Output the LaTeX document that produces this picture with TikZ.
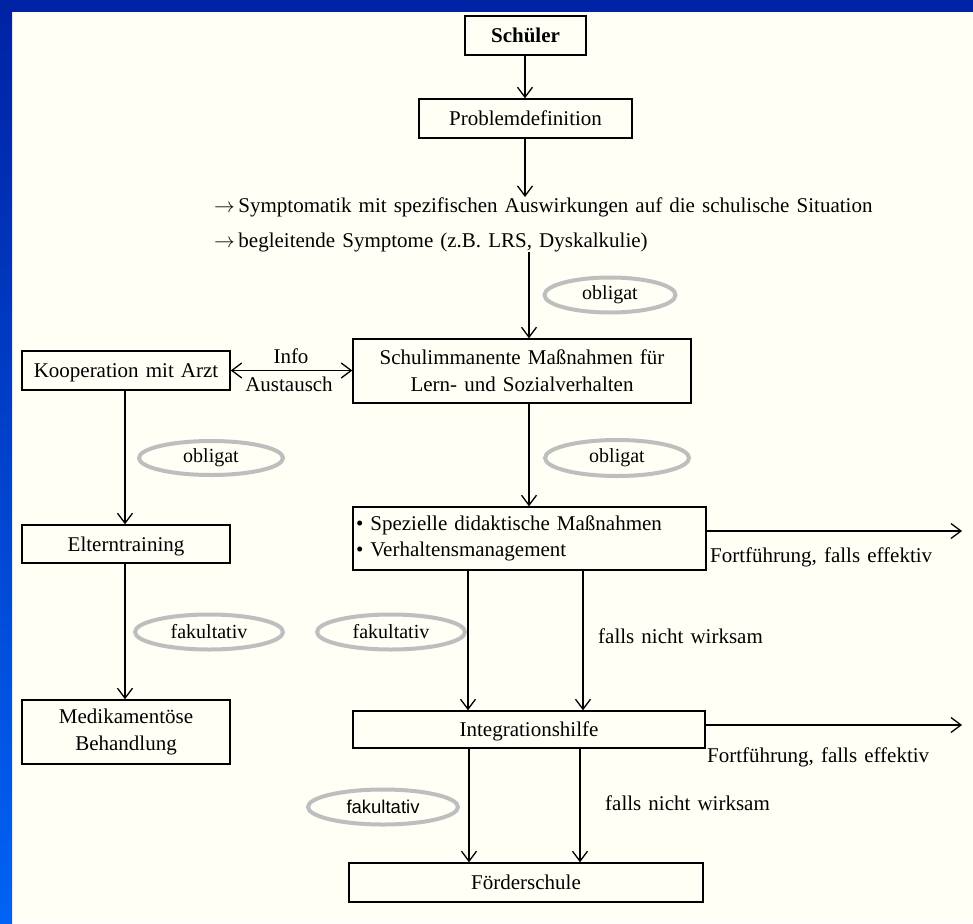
\documentclass[tikz,border=0pt]{standalone}
\usepackage{fontspec}
\setmainfont{Liberation Serif}[WordSpace=1.35]
\setsansfont{Liberation Sans}
\usetikzlibrary{arrows.meta,shapes.geometric}
\definecolor{bgcream}{RGB}{255,255,246}
\definecolor{ovalgray}{RGB}{190,190,190}
\definecolor{bluetop}{RGB}{0,34,164}
\definecolor{bluebot}{RGB}{0,98,245}
\begin{document}
\begin{tikzpicture}[x=1pt,y=-1pt,
  box/.style={draw=black, line width=1.4pt, inner sep=0pt, align=center, font=\fontsize{21}{27}\selectfont},
  onebox/.style={box, text depth=0pt},
  oval/.style={ellipse, draw=ovalgray, line width=4pt, inner sep=0pt, font=\fontsize{20}{24}\selectfont},
  lbl/.style={inner sep=0pt, font=\fontsize{21}{24}\selectfont},
  conn/.style={line width=1.3pt, -{Straight Barb[length=10pt,width=15pt]}},
  dconn/.style={line width=1.3pt, {Straight Barb[length=10pt,width=15pt]}-{Straight Barb[length=10pt,width=15pt]}},
]
% background and frame
\useasboundingbox (0,0) rectangle (973,923);
\fill[bgcream] (0,0) rectangle (973,923);
\shade[top color=bluetop, bottom color=bluebot] (0,0) rectangle (12,923);
\fill[bluetop] (0,0) rectangle (973,12);

% boxes
\node[onebox, minimum width=121pt, minimum height=39pt, font=\fontsize{21}{27}\selectfont\bfseries] (schueler) at (525.5,35.5) {Schüler};
\node[onebox, minimum width=213pt, minimum height=39pt] (problem) at (525.5,118.5) {Problemdefinition};
\node[box, minimum width=338pt, minimum height=64pt] (schul) at (522,371) {Schulimmanente Maßnahmen für\\Lern- und Sozialverhalten};
\node[onebox, minimum width=208pt, minimum height=39pt] (koop) at (126,370.5) {Kooperation mit Arzt};
\node[onebox, minimum width=208pt, minimum height=38pt] (eltern) at (126,544) {Elterntraining};
\node[box, minimum width=208pt, minimum height=64pt] (medi) at (126,732) {Medikamentöse\\Behandlung};
\node[box, minimum width=353pt, minimum height=63pt, text width=347pt, align=left, inner xsep=3pt, font=\fontsize{21}{25.5}\selectfont] (spez) at (529.5,538.5) {• Spezielle didaktische Maßnahmen\\• Verhaltensmanagement};
\node[onebox, minimum width=352pt, minimum height=37pt] (integ) at (529,729.5) {Integrationshilfe};
\node[onebox, minimum width=354pt, minimum height=39pt] (foerder) at (526,882.5) {Förderschule};

% symptom lines
\node[lbl, anchor=west] (sym1) at (214,207) {$\rightarrow$\,Symptomatik mit spezifischen Auswirkungen auf die schulische Situation};
\node[lbl, anchor=west] (sym2) at (214,242) {$\rightarrow$\,begleitende Symptome (z.B. LRS, Dyskalkulie)};
\coordinate (c1) at (525,197);
\coordinate (c2) at (529,252);
\coordinate (e1) at (962,531);
\coordinate (e2) at (962,725);

% ovals
\node[oval, minimum width=131pt, minimum height=35pt] (ob1) at (610,295) {obligat};
\node[oval, minimum width=144pt, minimum height=36pt] (ob2) at (617,458) {obligat};
\node[oval, minimum width=144pt, minimum height=34pt] (ob3) at (211,458) {obligat};
\node[oval, minimum width=148pt, minimum height=35pt] (fk1) at (209,632) {fakultativ};
\node[oval, minimum width=148pt, minimum height=35pt] (fk2) at (391,632) {fakultativ};
\node[oval, minimum width=150pt, minimum height=35pt, font=\sffamily\fontsize{18.5}{22}\selectfont] (fk3) at (383,807) {fakultativ};

% labels
\node[lbl] (info) at (291,356) {Info};
\node[lbl] (aust) at (289,384) {Austausch};
\node[lbl, anchor=west] (fort1) at (710,557) {Fortführung, falls effektiv};
\node[lbl, anchor=west] (fort2) at (707,757) {Fortführung, falls effektiv};
\node[lbl, anchor=west] (fnw1) at (598,636) {falls nicht wirksam};
\node[lbl, anchor=west] (fnw2) at (605,803) {falls nicht wirksam};

% connectors
\draw[conn] ([xshift=-0.5pt]schueler.south) -- ([xshift=-0.5pt]problem.north);
\draw[conn] ([xshift=-0.5pt]problem.south) -- (c1);
\draw[conn] (c2) -- (c2 |- schul.north);
\draw[dconn] (koop.east) -- (koop.east -| schul.west);
\draw[conn] ([xshift=-1pt]koop.south) -- ([xshift=-1pt]eltern.north);
\draw[conn] ([xshift=-1pt]eltern.south) -- ([xshift=-1pt]medi.north);
\draw[conn] ([xshift=-0.5pt]spez.north |- schul.south) -- ([xshift=-0.5pt]spez.north);
\draw[conn] (spez.east |- e1) -- (e1);
\draw[conn] ([xshift=-61.5pt]spez.south) -- ([xshift=-61.5pt]spez.south |- integ.north);
\draw[conn] ([xshift=53.5pt]spez.south) -- ([xshift=53.5pt]spez.south |- integ.north);
\draw[conn] (integ.east |- e2) -- (e2);
\draw[conn] ([xshift=-60pt]integ.south) -- ([xshift=-60pt]integ.south |- foerder.north);
\draw[conn] ([xshift=51pt]integ.south) -- ([xshift=51pt]integ.south |- foerder.north);
\end{tikzpicture}
\end{document}
